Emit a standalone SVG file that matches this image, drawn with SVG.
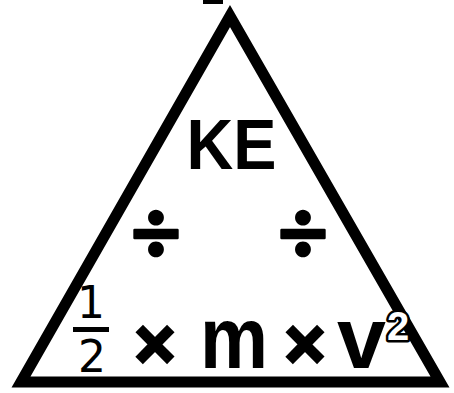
<svg xmlns="http://www.w3.org/2000/svg" width="454" height="393" viewBox="0 0 454 393">
<style>
.b{font-family:"Liberation Sans",Arial,sans-serif;font-weight:bold;fill:#000}
.d{font-family:"DejaVu Sans",sans-serif;fill:#000}
.dv{font-family:Lato,"DejaVu Sans",sans-serif;font-weight:bold;fill:#000;stroke:#000;stroke-width:2.5;stroke-linejoin:round}
.op{stroke:#000;stroke-width:3;stroke-linejoin:miter}
</style>
<rect width="454" height="393" fill="#fff"/>
<g id="connectors">
<rect x="203" y="0" width="20" height="4" fill="#000"/>
<polygon points="230,16 21,382 440,382" fill="none" stroke="#000" stroke-width="11" stroke-linejoin="miter" stroke-miterlimit="10"/>
</g>
<g id="ke"><text class="b" x="231.5" y="169" font-size="71" text-anchor="middle" textLength="90" lengthAdjust="spacingAndGlyphs">KE</text></g>
<g id="div-left"><text class="dv" x="156" y="263" font-size="88" text-anchor="middle">÷</text></g>
<g id="div-right"><text class="dv" x="303" y="263" font-size="88" text-anchor="middle">÷</text></g>
<g id="half">
<text class="d" x="91" y="318" font-size="44" text-anchor="middle">1</text>
<rect x="73" y="327" width="36" height="5" fill="#000"/>
<text class="d" x="92" y="372" font-size="44" text-anchor="middle">2</text>
</g>
<g id="times1"><text class="b op" x="155" y="368" font-size="70" text-anchor="middle">×</text></g>
<g id="m"><text class="b" x="200" y="368" font-size="88" textLength="68" lengthAdjust="spacingAndGlyphs">m</text></g>
<g id="times2"><text class="b op" x="305" y="368" font-size="70" text-anchor="middle">×</text></g>
<g id="v"><text class="b" x="337" y="368" font-size="88">v</text>
<text class="b" x="387" y="340" font-size="40" stroke="#000" stroke-width="5" paint-order="stroke" stroke-linejoin="round" style="fill:#fff">2</text></g>
</svg>
